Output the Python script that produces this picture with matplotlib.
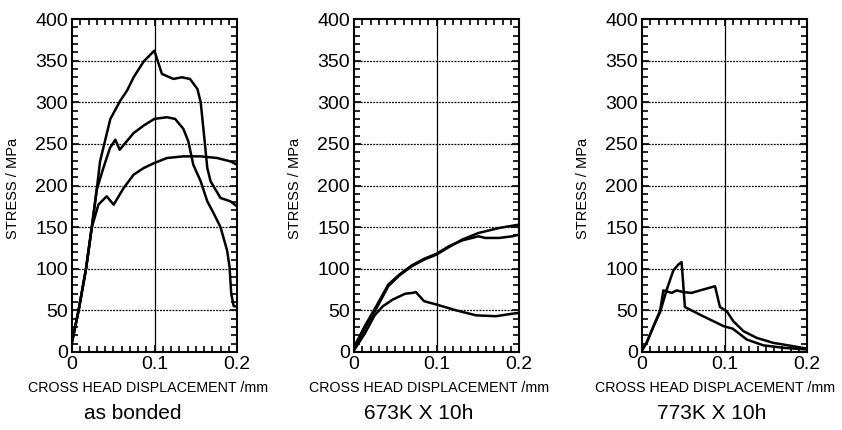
import matplotlib
matplotlib.use("Agg")
import matplotlib.pyplot as plt
from matplotlib.ticker import MultipleLocator

plt.rcParams['font.family'] = ['Liberation Sans', 'DejaVu Sans']

# panel 1: as bonded
a1_x = [0, 0.008, 0.017, 0.024, 0.030, 0.034, 0.0465, 0.0586, 0.0667, 0.0747, 0.0869, 0.0998,
        0.109, 0.123, 0.133, 0.143, 0.152, 0.156, 0.160, 0.164, 0.168, 0.180, 0.192, 0.2]
a1_y = [12, 50, 100, 150, 195, 229, 280, 302, 314, 330, 349, 362,
        334, 328, 330, 328, 316, 300, 261, 221, 205, 185, 181, 175]
a2_x = [0, 0.008, 0.017, 0.024, 0.030, 0.038, 0.046, 0.0525, 0.0578, 0.0747, 0.0869, 0.0998,
        0.115, 0.125, 0.135, 0.141, 0.147, 0.156, 0.164, 0.172, 0.180, 0.188, 0.191, 0.193, 0.196, 0.199]
a2_y = [12, 50, 100, 150, 195, 221, 245, 255, 243, 263, 272, 280,
        282, 280, 268, 253, 225, 205, 181, 166, 150, 122, 102, 70, 55, 55]
a3_x = [0, 0.008, 0.017, 0.024, 0.030, 0.032, 0.042, 0.0505, 0.0626, 0.0747, 0.0869, 0.0998,
        0.115, 0.135, 0.156, 0.176, 0.192, 0.2]
a3_y = [12, 50, 100, 150, 170, 177, 187, 177, 197, 213, 221, 227,
        233, 235, 235, 233, 229, 225]

# panel 2: 673K x 10h
b1_x = [0, 0.013, 0.027, 0.0415, 0.055, 0.070, 0.085, 0.1, 0.115, 0.131, 0.151, 0.176, 0.2]
b1_y = [3, 28, 52, 79, 92, 103, 111, 117, 126, 135, 143, 149, 153]
b2_x = [0, 0.013, 0.027, 0.0415, 0.055, 0.070, 0.085, 0.1, 0.115, 0.131, 0.151, 0.159, 0.176, 0.192, 0.2]
b2_y = [6, 31, 55, 81, 93, 104, 112, 118, 127, 134, 139, 137, 137, 139, 141]
b3_x = [0, 0.013, 0.025, 0.035, 0.047, 0.062, 0.071, 0.075, 0.085, 0.1, 0.124, 0.148, 0.172, 0.192, 0.2]
b3_y = [2, 22, 44, 55, 63, 70, 71, 72, 61, 57, 50, 44, 43, 46, 47]

# panel 3: 773K x 10h
c1_x = [0, 0.006, 0.014, 0.022, 0.030, 0.038, 0.044, 0.048, 0.052, 0.074, 0.099, 0.110,
        0.127, 0.147, 0.172, 0.2]
c1_y = [2, 12, 31, 48, 75, 98, 105, 108, 54, 43, 31, 28, 15, 8, 5, 3]
c2_x = [0, 0.006, 0.014, 0.022, 0.0259, 0.036, 0.042, 0.050, 0.060, 0.074, 0.0885, 0.0945,
        0.1027, 0.1107, 0.123, 0.139, 0.159, 0.183, 0.2]
c2_y = [2, 12, 31, 50, 74, 71, 74, 72, 71, 75, 79, 54,
        49, 37, 25, 17, 11, 7, 4]

captions = ["as bonded", "673K X 10h", "773K X 10h"]
panels = [[(a1_x, a1_y), (a2_x, a2_y), (a3_x, a3_y)],
          [(b1_x, b1_y), (b2_x, b2_y), (b3_x, b3_y)],
          [(c1_x, c1_y), (c2_x, c2_y)]]

fig = plt.figure(figsize=(8.42, 4.3), dpi=100)
lefts = [72, 354, 642]
xlab_pos = [0.463, 0.452, 0.442]
cap_pos = [0.369, 0.395, 0.42]

for i in range(3):
    ax = fig.add_axes([lefts[i] / 842, 78 / 430, 165 / 842, 333 / 430])
    for xs, ys in panels[i]:
        ax.plot(xs, ys, color="black", lw=1.8)
    ax.set_xlim(0, 0.2)
    ax.set_ylim(0, 400)
    ax.set_xticks([0, 0.1, 0.2])
    ax.set_xticklabels(["0", "0.1", "0.2"])
    ax.set_yticks(range(0, 401, 50))
    ax.xaxis.set_minor_locator(MultipleLocator(0.01))
    ax.yaxis.set_minor_locator(MultipleLocator(10))
    ax.tick_params(which="both", direction="in", top=True, right=True, labelsize=14, width=1.2)
    ax.tick_params(which="major", length=5, pad=3)
    ax.tick_params(which="minor", length=4)
    for y in range(50, 400, 50):
        ax.axhline(y, color="black", lw=0.9, ls=(0, (1.5, 1)))
    ax.axvline(0.1, color="black", lw=0.9)
    for s in ax.spines.values():
        s.set_linewidth(1.5)
    ax.text(-0.36, 0.49, "STRESS / MPa", rotation=90, ha="center", va="center",
            fontsize=10.5, transform=ax.transAxes)
    ax.text(xlab_pos[i], -0.108, "CROSS HEAD DISPLACEMENT /mm", ha="center", va="center",
            fontsize=10.3, transform=ax.transAxes)
    ax.text(cap_pos[i], -0.185, captions[i], ha="center", va="center",
            fontsize=15, transform=ax.transAxes)

fig.savefig("out.png", dpi=100)
